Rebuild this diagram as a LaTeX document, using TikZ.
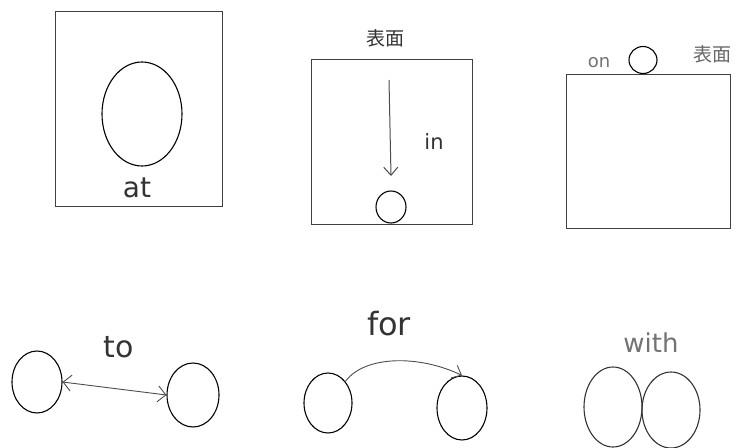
\documentclass[tikz,border=0pt]{standalone}
\usepackage{fontspec}
\setmainfont{DejaVu Sans}
\newfontfamily\jpfont{Noto Sans CJK JP}
\usetikzlibrary{arrows.meta,shapes.geometric}
\begin{document}
\begin{tikzpicture}[x=1pt,y=-1pt,
  frame/.style={draw=black!75, line width=0.8pt},
  ring/.style={draw=black, line width=1.1pt},
  word/.style={text=black!80, font=\fontsize{28}{30}\selectfont\mdseries},
  jp/.style={text=black!80, font=\jpfont\fontsize{19}{20}\selectfont},
  conn/.style={draw=black!70, line width=0.9pt},
  tip/.style={-{Straight Barb[length=8pt,width=14pt]}}]
\useasboundingbox (0,0) rectangle (741,447);
% at
\node[frame, minimum width=167pt, minimum height=195pt, inner sep=0pt] (boxat) at (139,109) {};
\node[ring, ellipse, minimum width=80pt, minimum height=104pt, inner sep=0pt] (oat) at (142,114) {};
\node[word] (tat) at (137,188) {at};
% in
\node[frame, minimum width=161pt, minimum height=165pt, inner sep=0pt] (boxin) at (392,142) {};
\node[jp] (jpin) at (385,38) {表面};
\node[ring, ellipse, minimum width=30pt, minimum height=32pt, inner sep=0pt] (oin) at (391,207) {};
\coordinate (instart) at (389,80);
\coordinate (inend) at (391,176);
\draw[conn, line width=1pt, tip] (instart) -- (inend);
\node[word, font=\fontsize{21}{22}\selectfont] (tin) at (434,142) {in};
% on
\node[frame, minimum width=164pt, minimum height=154pt, inner sep=0pt] (boxon) at (648,151) {};
\node[ring, ellipse, minimum width=28pt, minimum height=27pt, inner sep=0pt] (oon) at (643,60) {};
\node[word, font=\fontsize{18}{20}\selectfont, text=black!55] (ton) at (599,63) {on};
\node[jp, text=black!60] (jpon) at (712,54) {表面};
% to
\node[ring, ellipse, minimum width=50pt, minimum height=62pt, inner sep=0pt] (ta) at (37,382) {};
\node[ring, ellipse, minimum width=52pt, minimum height=64pt, inner sep=0pt] (tb) at (193,395) {};
\node[word, font=\fontsize{30}{32}\selectfont] (tto) at (119,347) {to};
\draw[conn, {Straight Barb[length=8pt,width=16pt]}-{Straight Barb[length=8pt,width=16pt]}] (ta.east) -- (tb.west);
% for
\node[ring, ellipse, minimum width=48pt, minimum height=60pt, inner sep=0pt] (fa) at (328,403) {};
\node[ring, ellipse, minimum width=50pt, minimum height=64pt, inner sep=0pt] (fb) at (462,408) {};
\node[word, font=\fontsize{32}{34}\selectfont] (tfor) at (389,324) {for};
\draw[conn, tip] (fa.north east) .. controls (365,355) and (420,355) .. (fb.north);
% with
\node[ring, ellipse, minimum width=58pt, minimum height=80pt, inner sep=0pt, draw=black!80] (wa) at (613,407) {};
\node[ring, ellipse, minimum width=58pt, minimum height=76pt, inner sep=0pt, draw=black!80] (wb) at (671,410) {};
\node[word, font=\fontsize{26}{28}\selectfont, text=black!55] (twith) at (651,343) {with};
\end{tikzpicture}
\end{document}
